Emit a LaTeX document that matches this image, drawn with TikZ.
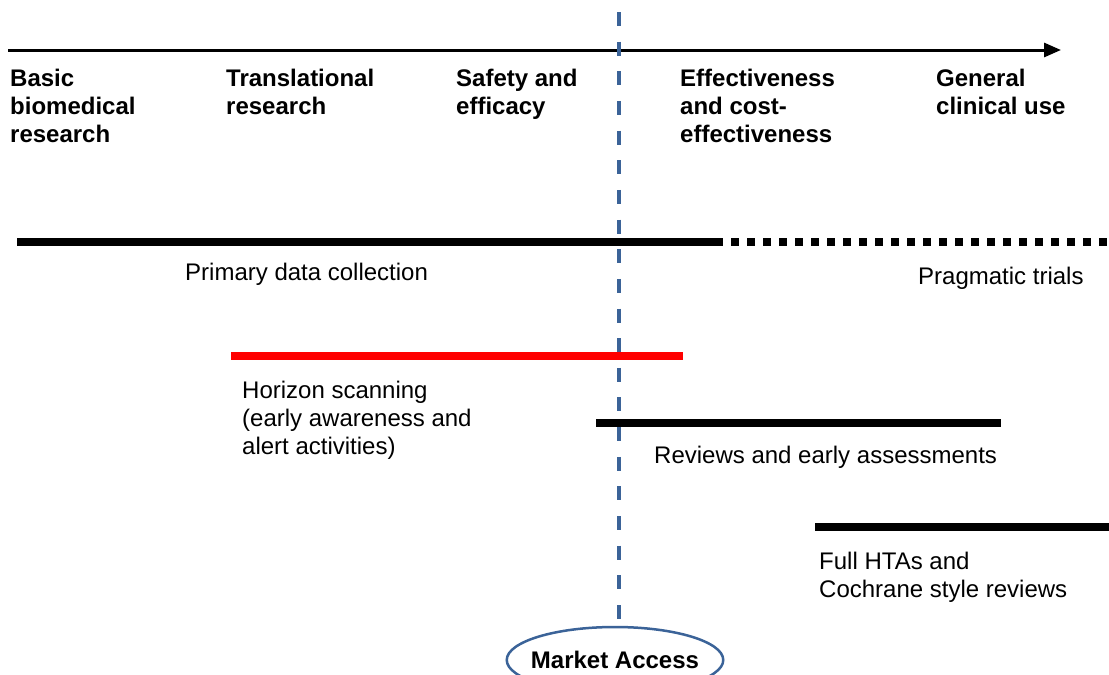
\documentclass[tikz,border=0pt]{standalone}
\usepackage{fontspec}
\setmainfont{Liberation Sans}
\usetikzlibrary{arrows.meta,shapes.geometric}
\definecolor{mablue}{HTML}{3B6398}
\tikzset{
  hdr/.style={anchor=north west, inner sep=0pt, align=left, font=\fontsize{24}{28}\selectfont\bfseries},
  lbl/.style={anchor=north west, inner sep=0pt, align=left, font=\fontsize{24}{28}\selectfont},
  bar/.style={line width=7.5pt, line cap=butt},
}
\begin{document}
\begin{tikzpicture}[x=1pt,y=-1pt]
\useasboundingbox (0,0) rectangle (1109,675);
\clip (0,0) rectangle (1109,675);
% timeline arrow
\coordinate (tl0) at (8,50);
\coordinate (tl1) at (1061,50);
\draw[line width=3pt, -{Triangle[length=17pt,width=14pt]}] (tl0) -- (tl1);
% headers
\node[hdr] (h1) at (10,69) {Basic\\biomedical\\research};
\node[hdr] (h2) at (226,69) {Translational\\research};
\node[hdr] (h3) at (456,69) {Safety and\\efficacy};
\node[hdr] (h4) at (680,69) {Effectiveness\\and cost-\\effectiveness};
\node[hdr] (h5) at (936,69) {General\\clinical use};
% market access
\node[draw=mablue, line width=2.5pt, ellipse, minimum height=66pt, inner ysep=0pt, inner xsep=-7.5pt,
      font=\fontsize{24}{28}\selectfont\bfseries] (ma) at (615,660) {Market Access};
\coordinate (mtop) at (619,12);
\coordinate (mbot) at (619,619);
\draw[mablue, line width=3.5pt, dash pattern=on 14pt off 15.65pt] (mtop) -- (mbot);
% primary data collection
\coordinate (p0) at (17,242);
\coordinate (p1) at (715,242);
\coordinate (p2) at (1109,242);
\draw[bar, line width=8pt] (p0) -- (p1);
\draw[line width=8pt, dash pattern=on 8pt off 8pt] (p1) -- (p2);
\node[lbl] (pdc) at (185,263) {Primary data collection};
\node[lbl] (pt) at (918,267) {Pragmatic trials};
% horizon scanning
\coordinate (r0) at (231,356);
\coordinate (r1) at (683,356);
\draw[bar, red] (r0) -- (r1);
\node[lbl] (hs) at (242,381) {Horizon scanning\\(early awareness and\\alert activities)};
% reviews
\coordinate (v0) at (596,423);
\coordinate (v1) at (1001,423);
\draw[bar] (v0) -- (v1);
\node[lbl] (rev) at (654,446) {Reviews and early assessments};
% full HTAs
\coordinate (f0) at (815,527);
\coordinate (f1) at (1109,527);
\draw[bar] (f0) -- (f1);
\node[lbl] (hta) at (819,552) {Full HTAs and\\Cochrane style reviews};
\end{tikzpicture}
\end{document}
